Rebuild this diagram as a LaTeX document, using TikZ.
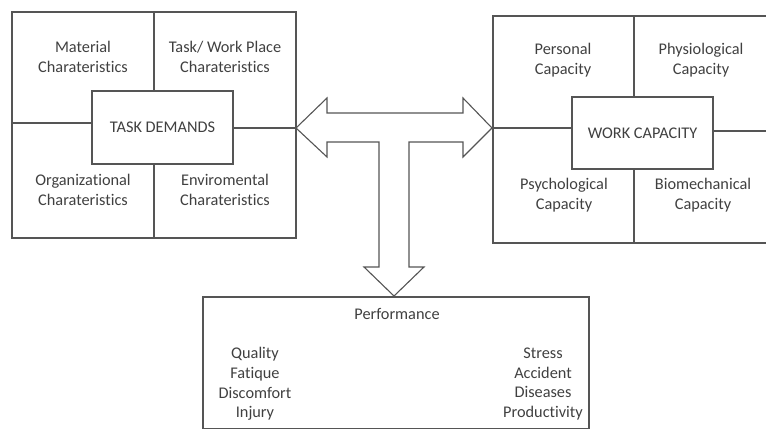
\documentclass[tikz,border=0pt]{standalone}
\usepackage{fontspec}
\setmainfont{Carlito}[Ligatures=NoCommon]
\definecolor{ln}{HTML}{555555}
\definecolor{tx}{HTML}{404040}
\begin{document}
\begin{tikzpicture}[x=1pt,y=-1pt,
  frame/.style={draw=ln,line width=1.1pt},
  lbl/.style={text=tx,align=center,font=\fontsize{16.3}{19.6}\selectfont,inner sep=0pt},
  inbox/.style={draw=ln,line width=1.1pt,fill=white,inner sep=0pt}]
\useasboundingbox (0,0) rectangle (766,430);
% left block
\draw[frame] (12,12) rectangle (296,238);
\node[inbox,minimum width=141pt,minimum height=73pt] (td) at (162.5,127.5) {};
\node[lbl] (tdt) at (td.center) {TASK DEMANDS};
\coordinate (lt) at (154,12);
\coordinate (lb) at (154,238);
\coordinate (ll) at (12,123);
\coordinate (lr) at (296,128);
\draw[frame] (lt) -- (lt|-td.north);
\draw[frame] (lb) -- (lb|-td.south);
\draw[frame] (ll) -- (ll-|td.west);
\draw[frame] (lr) -- (lr-|td.east);
\node[lbl] (m) at (83,57) {Material\\Charateristics};
\node[lbl] (tw) at (225,57) {Task/ Work Place\\Charateristics};
\node[lbl] (o) at (83,190) {Organizational\\Charateristics};
\node[lbl] (e) at (225,190) {Enviromental\\Charateristics};
% right block
\draw[frame] (770,16) -- (493,16) -- (493,243) -- (770,243);
\node[inbox,minimum width=141pt,minimum height=72pt] (wc) at (642.5,133) {};
\node[lbl] (wct) at (wc.center) {WORK CAPACITY};
\coordinate (rt) at (634,16);
\coordinate (rb) at (634,243);
\coordinate (rl) at (493,128);
\coordinate (rr) at (770,131);
\draw[frame] (rt) -- (rt|-wc.north);
\draw[frame] (rb) -- (rb|-wc.south);
\draw[frame] (rl) -- (rl-|wc.west);
\draw[frame] (rr) -- (rr-|wc.east);
\node[lbl] (pc) at (563,60) {Personal\\Capacity};
\node[lbl] (phc) at (701,60) {Physiological\\Capacity};
\node[lbl] (psc) at (564,195) {Psychological\\Capacity};
\node[lbl] (bc) at (703,195) {Biomechanical\\Capacity};
% T arrow
\draw[frame,line join=miter,fill=white] (296,128) -- (327,98) -- (327,113) -- (463,113) -- (463,98) -- (492,128)
  -- (463,157) -- (463,142) -- (409,142) -- (409,267) -- (424,267) -- (394,296) -- (364,267) -- (379,267)
  -- (379,142) -- (327,142) -- (327,157) -- cycle;
% performance
\draw[frame] (203,297) rectangle (589,428.5);
\node[lbl] (perf) at (397,314) {Performance};
\node[lbl] (l1) at (255,384) {Quality\\Fatique\\Discomfort\\Injury};
\node[lbl] (r1) at (543,384) {Stress\\Accident\\Diseases\\Productivity};
\end{tikzpicture}
\end{document}
